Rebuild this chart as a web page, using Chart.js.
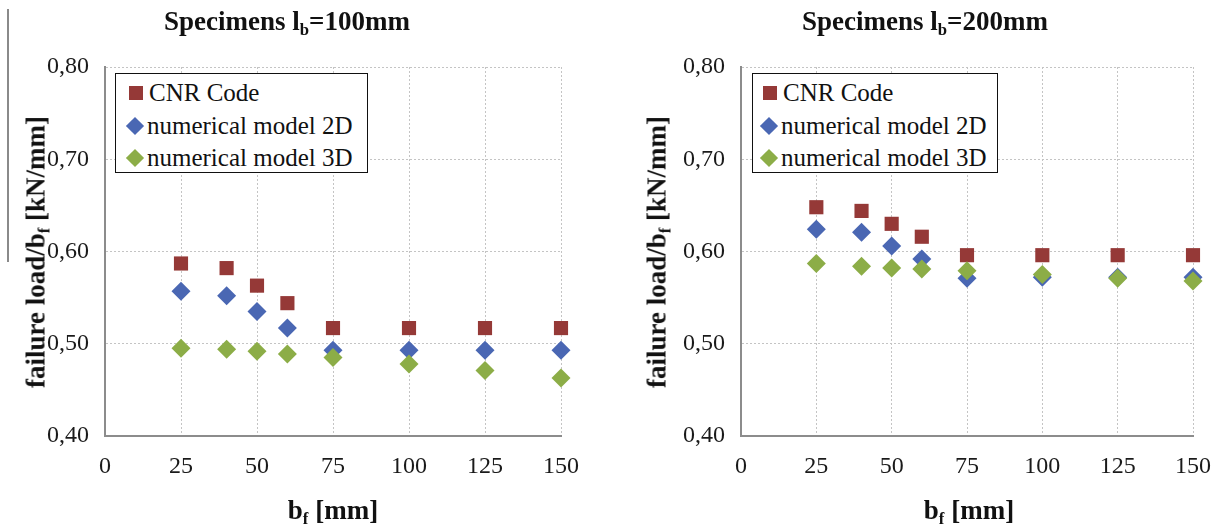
<!DOCTYPE html>
<html>
<head>
<meta charset="utf-8">
<script src="https://cdn.jsdelivr.net/npm/chart.js@4/dist/chart.umd.min.js"></script>
<style>
  html, body { margin:0; padding:0; background:#fff; }
  body { width:1227px; height:525px; position:relative; overflow:hidden; font-family:"Liberation Serif", "Times New Roman", serif; color:#111; }
  .cw { position:absolute; top:0; height:525px; }
  .title { position:absolute; font-weight:bold; font-size:27px; white-space:nowrap; transform:translate(-50%,-50%); }
  .xt { position:absolute; font-weight:bold; font-size:27px; white-space:nowrap; transform:translate(-50%,-50%); }
  .yt { position:absolute; font-weight:bold; font-size:27px; white-space:nowrap; transform:translate(-50%,-50%) rotate(-90deg); }
  sub { font-size:0.62em; vertical-align:-0.3em; line-height:0; }
  .legend { position:absolute; border:1.5px solid #111; background:#fff; box-sizing:border-box; }
  .li { position:absolute; left:0; height:30px; display:flex; align-items:center; font-size:25px; white-space:nowrap; }
  .mk { display:inline-block; width:14px; height:14px; margin-right:6px; }
  .dm { transform:rotate(45deg) scale(0.92); }
  .artifact { position:absolute; left:7px; top:9px; width:2px; height:253px; background:#8a8a8a; }
</style>
</head>
<body>
<div class="artifact"></div>
<div class="cw" style="left:0;width:613px;"><canvas id="c1" width="613" height="525"></canvas></div>
<div class="cw" style="left:613px;width:614px;"><canvas id="c2" width="614" height="525"></canvas></div>

<div class="title" style="left:287px;top:21px;">Specimens l<sub>b</sub>=100mm</div>
<div class="title" style="left:925px;top:21px;">Specimens l<sub>b</sub>=200mm</div>
<div class="yt" style="left:36px;top:252px;">failure load/b<sub>f</sub> [kN/mm]</div>
<div class="yt" style="left:657px;top:252px;">failure load/b<sub>f</sub> [kN/mm]</div>
<div class="xt" style="left:333px;top:510px;">b<sub>f</sub> [mm]</div>
<div class="xt" style="left:969px;top:510px;">b<sub>f</sub> [mm]</div>

<div id="leg1" class="legend" style="left:115px;top:73px;width:253px;height:100px;"></div>
<div id="leg2" class="legend" style="left:752px;top:73px;width:246px;height:100px;"></div>

<script>
// ---- data ----
const bf = [25, 40, 50, 60, 75, 100, 125, 150];
const seriesNames = ["CNR Code", "numerical model 2D", "numerical model 3D"];
const yTicks = [0.40, 0.50, 0.60, 0.70, 0.80];
const xTicks = [0, 25, 50, 75, 100, 125, 150];

// Specimens lb = 100 mm
const cnr100 = [0.587, 0.582, 0.563, 0.544, 0.517, 0.517, 0.517, 0.517];
const num2d100 = [0.557, 0.552, 0.535, 0.517, 0.493, 0.493, 0.493, 0.493];
const num3d100 = [0.495, 0.494, 0.492, 0.489, 0.485, 0.478, 0.471, 0.463];

// Specimens lb = 200 mm
const cnr200 = [0.648, 0.644, 0.630, 0.616, 0.596, 0.596, 0.596, 0.596];
const num2d200 = [0.624, 0.621, 0.606, 0.592, 0.571, 0.572, 0.572, 0.572];
const num3d200 = [0.587, 0.584, 0.582, 0.581, 0.579, 0.575, 0.571, 0.568];

const colors = ["#953937", "#4a67b3", "#8cad47"];
const shapes = ["rect", "rectRot", "rectRot"];
const radii = [10, 9.5, 9.5];

// ---- legends ----
function buildLegend(id, markerLeft) {
  const el = document.getElementById(id);
  const tops = [4, 37, 69];
  seriesNames.forEach((n, i) => {
    const d = document.createElement('div');
    d.className = 'li';
    d.style.top = tops[i] + 'px';
    d.style.left = markerLeft + 'px';
    const m = document.createElement('span');
    m.className = 'mk' + (i > 0 ? ' dm' : '');
    m.style.background = colors[i];
    if (i > 0) { m.style.marginLeft = '-1px'; m.style.marginRight = '5px'; }
    d.appendChild(m);
    d.appendChild(document.createTextNode(n));
    el.appendChild(d);
  });
}
buildLegend('leg1', 13);
buildLegend('leg2', 10);

// ---- charts ----
const fontTick = { family: "Liberation Serif", size: 24 };

function makeChart(id, dataArrs, yAxisWidth, padRight) {
  const datasets = dataArrs.map((arr, i) => ({
    label: seriesNames[i],
    data: bf.map((x, k) => ({ x: x, y: arr[k] })),
    pointStyle: shapes[i],
    pointRadius: radii[i],
    pointHoverRadius: radii[i],
    backgroundColor: colors[i],
    borderColor: colors[i],
    borderWidth: 0,
    showLine: false,
    clip: false,
    order: 2 - i
  }));
  return new Chart(document.getElementById(id), {
    type: 'scatter',
    data: { datasets },
    options: {
      responsive: false,
      animation: false,
      events: [],
      layout: { padding: { top: 67, right: padRight, bottom: 0, left: 0 } },
      plugins: { legend: { display: false }, tooltip: { enabled: false }, title: { display: false } },
      scales: {
        x: {
          type: 'linear', min: 0, max: 150,
          afterFit: s => { s.height = 89; },
          afterBuildTicks: s => { s.ticks = xTicks.map(v => ({ value: v })); },
          ticks: { font: fontTick, color: '#1a1a1a', padding: 16, maxRotation: 0, callback: v => String(v) },
          grid: { color: '#c4c4c4', lineWidth: 1, drawTicks: false },
          border: { display: true, color: '#8c8c8c', width: 2, dash: [2, 2] }
        },
        y: {
          type: 'linear', min: 0.4, max: 0.8,
          afterFit: s => { s.width = yAxisWidth; },
          afterBuildTicks: s => { s.ticks = yTicks.map(v => ({ value: v })); },
          ticks: { font: fontTick, color: '#1a1a1a', padding: 16, callback: v => Number(v).toFixed(2).replace('.', ',') },
          grid: { color: '#c4c4c4', lineWidth: 1, drawTicks: false },
          border: { display: true, color: '#8c8c8c', width: 2, dash: [2, 2] }
        }
      }
    }
  });
}

makeChart('c1', [cnr100, num2d100, num3d100], 105, 52);
makeChart('c2', [cnr200, num2d200, num3d200], 128, 31);
</script>
</body>
</html>
